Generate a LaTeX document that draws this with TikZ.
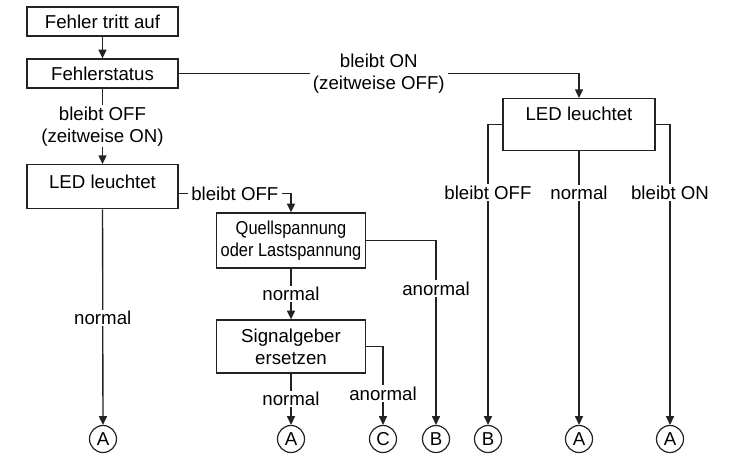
\documentclass[tikz,border=0pt]{standalone}
\usepackage{fontspec}
\setmainfont{Liberation Sans}
\newfontfamily\narrowfont{Liberation Sans}[FakeStretch=0.88]
\usetikzlibrary{arrows.meta,positioning}
\definecolor{linegray}{RGB}{35,35,35}

\begin{document}
\begin{tikzpicture}[
    x=0.75pt, y=-0.75pt,
    box/.style={draw=linegray, line width=1pt, align=center, inner sep=0pt,
        font=\fontsize{14}{16.5}\selectfont},
    endpt/.style={draw=linegray, line width=0.9pt, circle, minimum size=20.25pt, inner sep=0pt,
        font=\fontsize{14}{16.5}\selectfont},
    lbl/.style={fill=white, align=center, inner xsep=2.5pt, inner ysep=1pt,
        font=\fontsize{14}{16.5}\selectfont},
    arr/.style={draw=linegray, line width=1pt, -{Triangle[length=6.5pt,width=6pt]}},
]
    \useasboundingbox (0,0) rectangle (735,454);

    % Boxes on the left
    \node[box, minimum width=113.25pt, minimum height=21.75pt] (fehler) at (102.5,21.5) {Fehler tritt auf};
    \node[box, minimum width=113.25pt, minimum height=21.75pt] (status) at (102.5,73.5) {Fehlerstatus};
    \node[box, minimum width=113.25pt, text height=18pt, text depth=15pt, anchor=north]
        (ledL) at (102.5,164) {LED leuchtet};

    % Box on the right
    \node[box, minimum width=114pt, text height=16.1pt, text depth=22.9pt, anchor=north]
        (ledR) at (579,98) {LED leuchtet};

    % Middle column
    \node[box, minimum width=112pt, minimum height=41.25pt] (quell) at (291,240.5)
        {\narrowfont Quellspannung\\\narrowfont oder Lastspannung};
    \node[box, minimum width=112pt, minimum height=39.75pt] (signal) at (291,346.5) {Signalgeber\\ersetzen};

    % End points
    \node[endpt] (a1) at (103,439) {A};
    \node[endpt] (a2) at (291,439) {A};
    \node[endpt] (c1) at (383,439) {C};
    \node[endpt] (b1) at (436,439) {B};
    \node[endpt] (b2) at (488,439) {B};
    \node[endpt] (a3) at (579,439) {A};
    \node[endpt] (a4) at (670,439) {A};

    % Connectors
    \draw[arr] (fehler) -- (status);
    \draw[arr] (status) -- node[lbl] {bleibt OFF\\(zeitweise ON)} (ledL);
    \draw[arr] (status) -| node[lbl, pos=0.25] {bleibt ON\\(zeitweise OFF)} (ledR);

    \draw[arr] ([yshift=-5.25pt]ledL.east) -| node[lbl, pos=0.25] {bleibt OFF} (quell);
    \draw[arr] (ledL) -- node[lbl, pos=0.505] {normal} (a1);

    \draw[arr] (quell) -- node[lbl] {normal} (signal);
    \draw[arr] (quell) -| node[lbl, pos=0.63] {anormal} (b1);
    \draw[arr] (signal) -- node[lbl] {normal} (a2);
    \draw[arr] (signal) -| node[lbl, pos=0.8] {anormal} (c1);

    \draw[arr] (ledR) -| node[lbl, pos=0.613] {bleibt OFF} (b2);
    \draw[arr] (ledR) -- node[lbl, pos=0.152] {normal} (a3);
    \draw[arr] (ledR) -| node[lbl, pos=0.613] {bleibt ON} (a4);
\end{tikzpicture}
\end{document}
